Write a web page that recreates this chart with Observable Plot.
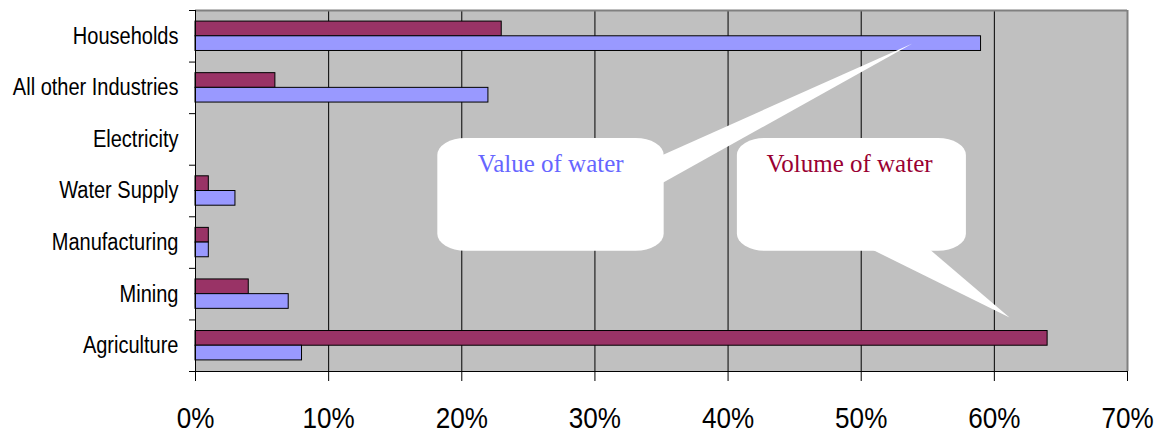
<!DOCTYPE html>
<html>
<head>
<meta charset="utf-8">
<script src="https://cdn.jsdelivr.net/npm/d3@7"></script>
<script src="https://cdn.jsdelivr.net/npm/@observablehq/plot@0.6"></script>
<style>
  html, body { margin: 0; padding: 0; background: #fff; }
  #chart svg { display: block; }
</style>
</head>
<body>
<div id="chart"></div>
<script>
// ---- data (bottom to top) ----
const categories = ["Agriculture", "Mining", "Manufacturing", "Water Supply", "Electricity", "All other Industries", "Households"];
const volumeOfWater = [0.64, 0.04, 0.01, 0.01, 0, 0.06, 0.23];
const valueOfWater  = [0.08, 0.07, 0.01, 0.03, 0, 0.22, 0.59];
const xTickValues = [0, 0.1, 0.2, 0.3, 0.4, 0.5, 0.6, 0.7];
const seriesNames = ["Volume of water", "Value of water"];
const seriesFill = ["#993366", "#9999FF"];
const labelColors = ["#990033", "#6666FF"];

// ---- callout annotations, in data units (x: share, y: category index) ----
const calloutBoxes = [
  {name: "Value of water",  x1: 0.182, x2: 0.352, y1: 2.33, y2: 4.52},
  {name: "Volume of water", x1: 0.407, x2: 0.579, y1: 2.33, y2: 4.52}
];
const calloutTails = [
  {name: "Value of water",  x: 0.350, y: 4.19},
  {name: "Value of water",  x: 0.5385, y: 6.36},
  {name: "Value of water",  x: 0.350, y: 3.645},
  {name: "Volume of water", x: 0.5077, y: 2.37},
  {name: "Volume of water", x: 0.6114, y: 1.047},
  {name: "Volume of water", x: 0.5513, y: 2.37}
];
const calloutLabels = [
  {name: "Value of water",  x: 0.2668, y: 4.03, color: labelColors[1]},
  {name: "Volume of water", x: 0.4912, y: 4.03, color: labelColors[0]}
];

const BAR = 0.285; // bar thickness in category units

const rows = categories.map((c, i) => ({category: c, i, volume: volumeOfWater[i], value: valueOfWater[i]}));
const bars = [];
rows.forEach(r => {
  if (r.volume > 0) bars.push({series: seriesNames[0], v: r.volume, y1: r.i + 0.5, y2: r.i + 0.5 + BAR});
  if (r.value > 0) bars.push({series: seriesNames[1], v: r.value, y1: r.i + 0.5 - BAR, y2: r.i + 0.5});
});

const chart = Plot.plot({
  width: 1161,
  height: 435,
  marginLeft: 195,
  marginRight: 34,
  marginTop: 10,
  marginBottom: 64,
  style: {fontFamily: "'Liberation Sans', Arial, sans-serif", background: "#fff", color: "#000"},
  x: {domain: [0, 0.7], axis: null},
  y: {domain: [0, 7], axis: null},
  color: {domain: seriesNames, range: seriesFill},
  marks: [
    Plot.frame({fill: "#C0C0C0"}),
    Plot.ruleX(xTickValues.slice(1, -1), {stroke: "#000", strokeWidth: 1}),
    Plot.ruleY([7], {stroke: "#808080", strokeWidth: 2}),
    Plot.ruleX([0.7], {stroke: "#808080", strokeWidth: 2}),
    Plot.rectX(bars, {x1: 0, x2: "v", y1: "y1", y2: "y2", fill: "series", stroke: "#000", strokeWidth: 1}),
    // callouts
    Plot.line(calloutTails, {x: "x", y: "y", z: "name", fill: "#fff", stroke: null, curve: "linear-closed"}),
    Plot.rect(calloutBoxes, {x1: "x1", x2: "x2", y1: "y1", y2: "y2", fill: "#fff", rx: 28, ry: 17}),
    Plot.text(calloutLabels, {x: "x", y: "y", text: "name", fill: "color", fontSize: 25,
      fontFamily: "'Liberation Serif', 'Times New Roman', serif", textAnchor: "middle", lineAnchor: "middle"}),
    // axes
    Plot.ruleY([0], {stroke: "#000", strokeWidth: 1}),
    Plot.ruleX([0], {stroke: "#000", strokeWidth: 1, insetBottom: -10}),
    Plot.axisX({ticks: xTickValues, tickFormat: d3.format(".0%"), tickSize: 10, tickPadding: 26, fontSize: 29, label: null, stroke: "#000"}),
    Plot.axisY({ticks: d3.range(0, 8), tickSize: 6, tickFormat: () => "", label: null}),
    Plot.axisY({ticks: categories.map((c, i) => i + 0.5), tickFormat: v => categories[Math.floor(v)], tickSize: 0, tickPadding: 17, fontSize: 23, label: null})
  ]
});

document.getElementById("chart").appendChild(chart);

// Horizontally condense axis tick labels, like the original rendering
function squeeze(selector, s) {
  chart.querySelectorAll(selector).forEach(t => {
    const tr = t.getAttribute("transform");
    if (tr) {
      t.setAttribute("transform", tr + ` scale(${s},1)`);
    } else {
      const x = +(t.getAttribute("x") || 0), y = +(t.getAttribute("y") || 0);
      t.setAttribute("transform", `translate(${x},${y}) scale(${s},1)`);
      t.removeAttribute("x");
      t.removeAttribute("y");
    }
  });
}
squeeze('g[aria-label="x-axis tick label"] text', 0.9);
squeeze('g[aria-label="y-axis tick label"] text', 0.87);
</script>
</body>
</html>
